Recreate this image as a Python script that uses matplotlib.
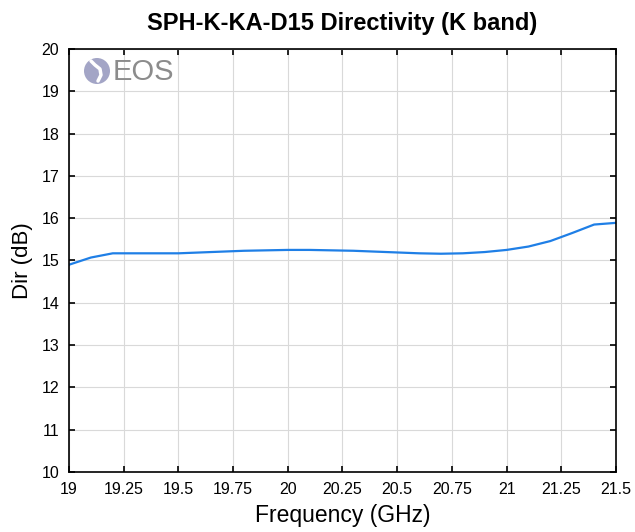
import numpy as np
import matplotlib.pyplot as plt
from matplotlib.patches import Ellipse
from matplotlib.lines import Line2D

plt.rcParams['font.family'] = ['Liberation Sans', 'DejaVu Sans']

# Directivity data
freq = [19.0, 19.1, 19.2, 19.3, 19.4, 19.5, 19.6, 19.7, 19.8, 19.9, 20.0, 20.1, 20.2,
        20.3, 20.4, 20.5, 20.6, 20.7, 20.8, 20.9, 21.0, 21.1, 21.2, 21.3, 21.4, 21.5]
directivity = [14.9, 15.07, 15.17, 15.17, 15.17, 15.17, 15.19, 15.21, 15.23, 15.24, 15.25,
               15.25, 15.24, 15.23, 15.21, 15.19, 15.17, 15.16, 15.17, 15.2, 15.25, 15.33,
               15.46, 15.65, 15.85, 15.89]
xticks = [19, 19.25, 19.5, 19.75, 20, 20.25, 20.5, 20.75, 21, 21.25, 21.5]
xtick_labels = ['19', '19.25', '19.5', '19.75', '20', '20.25', '20.5', '20.75', '21', '21.25', '21.5']
yticks = list(range(10, 21))

W, H = 635, 532
fig = plt.figure(figsize=(W / 100, H / 100), dpi=100)
ax = fig.add_axes([69 / W, 1 - 472 / H, 547 / W, 423 / H])

ax.plot(freq, directivity, color='#1f7fe6', linewidth=1.6)

ax.set_xlim(19, 21.5)
ax.set_ylim(10, 20)
ax.set_xticks(xticks)
ax.set_xticklabels(xtick_labels)
ax.set_yticks(yticks)
ax.grid(True, color='#d9d9d9', linewidth=0.8)
ax.tick_params(direction='in', top=True, right=True, labelsize=11.5, length=4, width=1.2, pad=7)
for s in ax.spines.values():
    s.set_linewidth(1.2)

ax.set_xlabel('Frequency (GHz)', fontsize=16.5, labelpad=5)
ax.set_ylabel('Dir (dB)', fontsize=16, labelpad=6)
ax.set_title('SPH-K-KA-D15 Directivity (K band)', fontsize=17, fontweight='bold', pad=14)

# EOS logo
cx, cy = 97, 71
fig.add_artist(Ellipse((cx / W, 1 - cy / H), 26 / W, 26 / H, transform=fig.transFigure,
                       facecolor='#a3a5c6', edgecolor='none', zorder=5))
sx = [cx - 6, cx - 2, cx + 3, cx + 4, cx + 1]
sy = [cy - 10, cy - 6, cy - 2, cy + 4, cy + 10]
fig.add_artist(Line2D([x / W for x in sx], [1 - y / H for y in sy], transform=fig.transFigure,
                      color='white', linewidth=2.5, solid_capstyle='round', zorder=6))
fig.text(113 / W, 1 - 72 / H, 'EOS', fontsize=21, color='#8c8c8c',
         va='center', ha='left')

plt.savefig('out.png', dpi=100)
